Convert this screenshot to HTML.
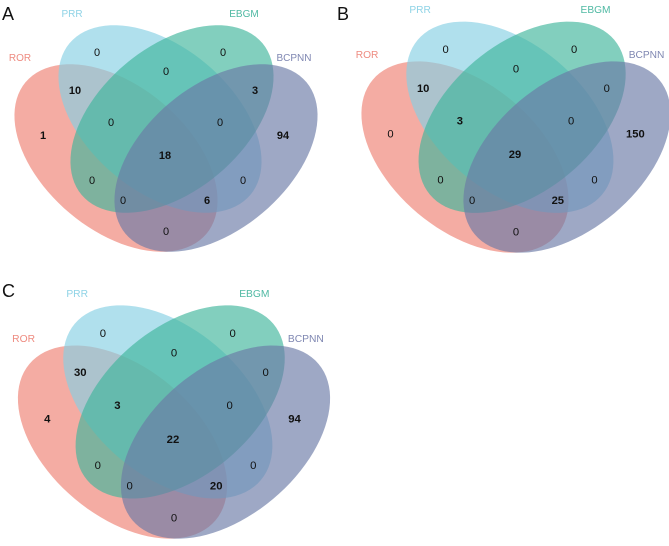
<!DOCTYPE html>
<html><head><meta charset="utf-8"><style>
html,body{margin:0;padding:0;background:#fff;overflow:hidden;width:669px;height:546px;}
svg{display:block;font-family:"Liberation Sans",sans-serif;}
</style></head><body>
<svg id="chart" width="669" height="546" viewBox="0 0 669 546" xmlns="http://www.w3.org/2000/svg"></svg>
<script>
// Data
const panelLabels = ["A", "B", "C"];
const setNames = ["ROR", "PRR", "EBGM", "BCPNN"];
// region order: PRR, EBGM, ROR∩PRR, EBGM∩BCPNN, PRR∩EBGM, ROR, BCPNN, ROR∩PRR∩EBGM, PRR∩EBGM∩BCPNN, ALL, ROR∩EBGM, PRR∩BCPNN, ROR∩EBGM∩BCPNN, ROR∩PRR∩BCPNN, ROR∩BCPNN
const regionNames = ["prr-only","ebgm-only","ror-prr","ebgm-bcpnn","prr-ebgm","ror-only","bcpnn-only","ror-prr-ebgm","prr-ebgm-bcpnn","all-four","ror-ebgm","prr-bcpnn","ror-ebgm-bcpnn","ror-prr-bcpnn","ror-bcpnn"];
const valuesA = [0,0,10,3,0,1,94,0,0,18,0,0,0,6,0];
const valuesB = [0,0,10,0,0,0,150,3,0,29,0,0,0,25,0];
const valuesC = [0,0,30,0,0,4,94,3,0,22,0,0,0,20,0];
const panelValues = [valuesA, valuesB, valuesC];

// Layout (panel-local coordinates, base panel centered at 166,155)
const regionPos = [[97,52],[223,52],[75,90],[255,90],[166,71],[43,135],[283,135],[111,122],[220,122],[165,155],[92,180],[243,180],[123,200],[207,200],[166,231]];
const ellipses = [
  {cx:116,cy:158,rot:40,fill:"#ee7f72"},
  {cx:160,cy:119,rot:40,fill:"#86d0e3"},
  {cx:172,cy:119,rot:-40,fill:"#3fb59b"},
  {cx:216,cy:158,rot:-40,fill:"#6a7aa6"}
];
const labelPos = [[20,61],[72,17],[244,17],[294,61]];
const labelColors = ["#ee8b80","#8fd3e6","#4fb9a3","#7f87b2"];
const panelTransforms = [{x:166,y:155,s:1,lx:2,ly:20},{x:516,y:154,s:1.02,lx:337,ly:20},{x:174,y:439,s:1.03,lx:2,ly:297}];

function ellipsePath(cx, cy, rx, ry, rotDeg) {
  const th = rotDeg * Math.PI / 180, c = Math.cos(th), s = Math.sin(th);
  let d = "";
  for (let k = 0; k <= 96; k++) {
    const t = k / 96 * 2 * Math.PI;
    const ex = rx * Math.cos(t), ey = ry * Math.sin(t);
    const x = cx + ex * c - ey * s, y = cy + ex * s + ey * c;
    d += (k ? "L" : "M") + x.toFixed(2) + " " + y.toFixed(2);
  }
  return d + "Z";
}

const NS = "http://www.w3.org/2000/svg";
const svg = document.getElementById("chart");
panelLabels.forEach((pl, p) => {
  const t = panelTransforms[p];
  const letter = document.createElementNS(NS, "text");
  
  
  letter.setAttribute("x", t.lx); letter.setAttribute("y", t.ly);
  letter.setAttribute("font-size", "18"); letter.setAttribute("fill", "#111");
  letter.textContent = pl;
  svg.appendChild(letter);
  const g = document.createElementNS(NS, "g");
  
  
  g.setAttribute("transform", `translate(${t.x},${t.y}) scale(${t.s}) translate(-166,-155)`);
  svg.appendChild(g);
  ellipses.forEach((e, i) => {
    const el = document.createElementNS(NS, "path");
    
    
    el.setAttribute("d", ellipsePath(e.cx, e.cy, 118, 72, e.rot));
    el.setAttribute("fill", e.fill); el.setAttribute("fill-opacity", "0.65");
    g.appendChild(el);
  });
  setNames.forEach((n, i) => {
    const tx = document.createElementNS(NS, "text");
    
    
    tx.setAttribute("x", labelPos[i][0]); tx.setAttribute("y", labelPos[i][1]);
    tx.setAttribute("text-anchor", "middle"); tx.setAttribute("font-size", "10");
    tx.setAttribute("fill", labelColors[i]);
    tx.textContent = n;
    g.appendChild(tx);
  });
  panelValues[p].forEach((v, r) => {
    const tx = document.createElementNS(NS, "text");
    
    
    tx.setAttribute("x", regionPos[r][0]); tx.setAttribute("y", regionPos[r][1] + 4);
    tx.setAttribute("text-anchor", "middle"); tx.setAttribute("font-size", "11");
    tx.setAttribute("fill", "#111");
    if (v !== 0) tx.setAttribute("font-weight", "bold");
    tx.textContent = v;
    g.appendChild(tx);
  });
});
</script>
</body></html>
